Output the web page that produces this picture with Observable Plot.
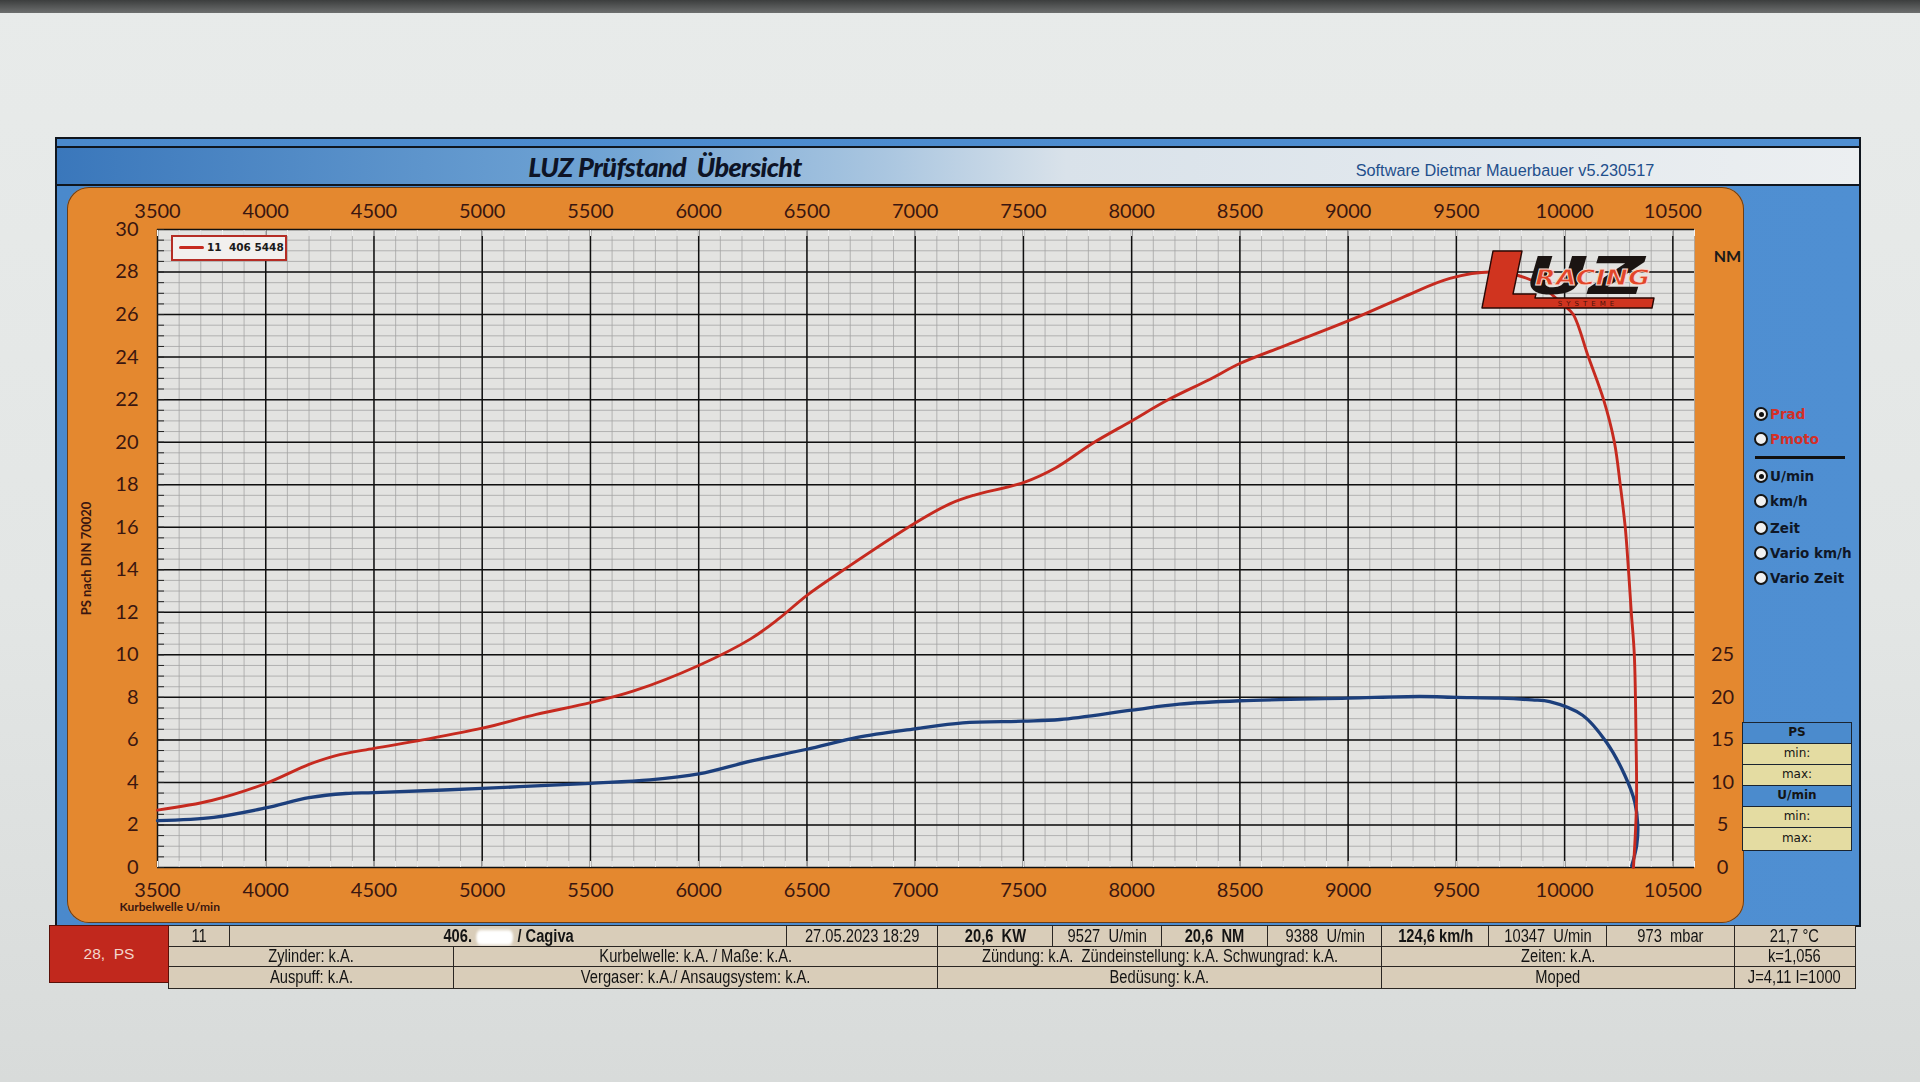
<!DOCTYPE html>
<html><head><meta charset="utf-8">
<script src="https://cdn.jsdelivr.net/npm/d3@7"></script>
<script src="https://cdn.jsdelivr.net/npm/@observablehq/plot@0.6"></script>
<style>
html,body{margin:0;padding:0;}
body{width:1920px;height:1082px;position:relative;overflow:hidden;background:linear-gradient(#e8ebea,#e3e6e5 55%,#d8dbda);font-family:"Liberation Sans",Arial,sans-serif;}
.abs{position:absolute;}
#topbar{left:0;top:0;width:1920px;height:13px;background:linear-gradient(#3c3e3e,#6d6f6f);}
#frame{left:55px;top:137px;width:1806px;height:790px;background:linear-gradient(90deg,#4a89cc,#4f8fd2);border:2px solid #10161e;box-sizing:border-box;}
#titlebar{left:57px;top:146px;width:1802px;height:40px;background:linear-gradient(90deg,#3a77bb 0%,#6fa3d4 30%,#aac6e0 46%,#d9e2ea 56%,#eceff1 100%);border-top:2px solid #10161e;border-bottom:2px solid #10161e;box-sizing:border-box;}
#title{left:520px;top:150px;width:290px;text-align:center;font-family:Lato,sans-serif;font-weight:900;font-style:italic;font-size:27px;letter-spacing:-0.6px;color:#0e1426;}
#software{left:1335px;top:161px;width:340px;text-align:center;font-size:16.3px;color:#1f4f8c;}
#orange{left:67px;top:187px;width:1677px;height:736px;background:#e4882f;border-radius:22px;box-shadow:inset 0 0 0 1px #6a3e18;}
#chart{left:67px;top:187px;}
#legend{left:171px;top:235px;width:112px;height:22px;border:2.5px solid #b52d25;background:#f2f0ee;font-family:"DejaVu Sans",sans-serif;font-weight:bold;font-size:10.5px;color:#1a1a1a;}
#legend .ln{position:absolute;left:6px;top:9px;width:25px;height:3px;background:#c62a1f;border-radius:2px;}
#legend .tx{position:absolute;left:34px;top:4px;white-space:pre;}
.radio{position:absolute;font-family:"DejaVu Sans",sans-serif;font-weight:bold;font-size:13.5px;white-space:nowrap;}
.radio .c{position:absolute;left:-16px;top:1px;width:10px;height:10px;border-radius:50%;background:#f2f2f2;border:2.5px solid #151515;}
.radio .c.on::after{content:"";position:absolute;left:2.5px;top:2.5px;width:5px;height:5px;border-radius:50%;background:#111;}
.mini{position:absolute;left:1742px;width:110px;box-sizing:border-box;border:1.5px solid #1a2430;text-align:center;font-family:"DejaVu Sans",sans-serif;font-size:12px;color:#141414;}
.cell{position:absolute;box-sizing:border-box;border:1.5px solid #2a2622;background:#d9cdb9;display:flex;align-items:center;justify-content:center;overflow:hidden;color:#141414;}
.cell span{display:inline-block;white-space:pre;transform:scaleX(0.84);font-size:17.5px;}
.blot{display:inline-block;width:52px;height:15px;background:#fff;border-radius:6px;filter:blur(1.5px);vertical-align:middle;margin:0 1px;}
</style></head>
<body>
<div id="topbar" class="abs"></div>
<div id="frame" class="abs"></div>
<div id="titlebar" class="abs"></div>
<div id="title" class="abs">LUZ Prüfstand&nbsp; Übersicht</div>
<div id="software" class="abs">Software Dietmar Mauerbauer v5.230517</div>
<div id="orange" class="abs"></div>
<div id="chart" class="abs"></div>
<div id="legend" class="abs"><div class="ln"></div><div class="tx"></div></div>
<svg class="abs" style="left:1478px;top:244px" width="190" height="70" id="logo">
  <path d="M15 7 H44 L35 50 H58 L57 54 H176 L174 64 H4 Z" fill="#d0341f" stroke="#2a0805" stroke-width="1.4" stroke-linejoin="round"/>
  <text x="47" y="50" font-family="DejaVu Sans" font-weight="bold" font-style="italic" font-size="52" fill="#1b1412" textLength="120" lengthAdjust="spacingAndGlyphs">UZ</text>
  <text x="110" y="62" font-family="DejaVu Sans" font-size="7" text-anchor="middle" fill="#4a120a" letter-spacing="4">SYSTEME</text>
  <text x="57" y="41" font-family="DejaVu Sans" font-weight="bold" font-style="italic" font-size="22" fill="#e2452a" stroke="#f6e0d8" stroke-width="0.8" textLength="115" lengthAdjust="spacingAndGlyphs">RACING</text>
</svg>
<div id="side"></div>
<div id="table"></div>
<script>
// ---------- data ----------
const legendName = "11  406 5448";
const rpmPower = [3500, 3750, 4000, 4200, 4320, 4500, 4725, 5000, 5250, 5500, 5700, 6000, 6240, 6370, 6500, 6670, 7000, 7160, 7270, 7500, 7650, 7820, 8000, 8160, 8360, 8500, 8750, 9000, 9250, 9470, 9670, 9850, 10000, 10040, 10110, 10180, 10230, 10257, 10280, 10295, 10308, 10322, 10330, 10332, 10318];
const psPower  = [2.7, 3.15, 3.95, 4.85, 5.25, 5.6, 6.0, 6.55, 7.2, 7.75, 8.3, 9.5, 10.75, 11.7, 12.8, 14.0, 16.2, 17.1, 17.5, 18.1, 18.8, 19.95, 21.0, 21.95, 22.95, 23.7, 24.7, 25.7, 26.8, 27.7, 28.0, 27.6, 26.4, 26.0, 24.0, 22.0, 20.0, 18.0, 16.0, 14.0, 12.0, 10.0, 6.0, 3.0, 0];
const rpmTorque = [3500, 3760, 4000, 4200, 4370, 4500, 5000, 5500, 5775, 6000, 6240, 6500, 6733, 7000, 7220, 7500, 7670, 8000, 8220, 8500, 9000, 9330, 9500, 9700, 9850, 9931, 10083, 10194, 10278, 10324, 10338, 10333, 10310];
const nmTorque  = [5.5, 5.9, 7.0, 8.2, 8.7, 8.8, 9.3, 9.9, 10.3, 11.0, 12.5, 13.9, 15.3, 16.3, 17.0, 17.2, 17.4, 18.5, 19.2, 19.6, 19.9, 20.1, 20.0, 19.9, 19.7, 19.5, 17.9, 14.7, 10.85, 7.7, 5.0, 2.6, 0.2];
const xTickLabels = [3500, 4000, 4500, 5000, 5500, 6000, 6500, 7000, 7500, 8000, 8500, 9000, 9500, 10000, 10500];
const psTicks = [0, 2, 4, 6, 8, 10, 12, 14, 16, 18, 20, 22, 24, 26, 28, 30];
const nmTicks = [0, 5, 10, 15, 20, 25];
const NM_PER_PS = 2.5;
const yLabel = "PS nach DIN 70020";
const xLabel = "Kurbelwelle U/min";
const modeOptions = [
  {label: "Prad", on: true, red: true},
  {label: "Pmoto", on: false, red: true},
  {label: "U/min", on: true, red: false},
  {label: "km/h", on: false, red: false},
  {label: "Zeit", on: false, red: false},
  {label: "Vario km/h", on: false, red: false},
  {label: "Vario Zeit", on: false, red: false}
];
const miniRows = [["PS", true], ["min:", false], ["max:", false], ["U/min", true], ["min:", false], ["max:", false]];
const peakLabel = "28,  PS";
const row1 = ["11", "406.|/ Cagiva", "27.05.2023 18:29", "20,6  KW", "9527  U/min", "20,6  NM", "9388  U/min", "124,6 km/h", "10347  U/min", "973  mbar", "21,7 °C"];
const row1Bold = [false, true, false, true, false, true, false, true, false, false, false];
const row2 = ["Zylinder: k.A.", "Kurbelwelle: k.A. / Maße: k.A.", "Zündung: k.A.  Zündeinstellung: k.A. Schwungrad: k.A.", "Zeiten: k.A.", "k=1,056"];
const row3 = ["Auspuff: k.A.", "Vergaser: k.A./ Ansaugsystem: k.A.", "Bedüsung: k.A.", "Moped", "J=4,11 I=1000"];

// ---------- chart ----------
const powerData = rpmPower.map((r, i) => ({rpm: r, ps: psPower[i]}));
const torqueData = rpmTorque.map((r, i) => ({rpm: r, nm: nmTorque[i]}));
const minorX = d3.range(3500, 10601, 100);
const minorY = d3.range(0, 30.001, 0.5);
const ink = "#3a1610";

const chart = Plot.plot({
  width: 1677, height: 736,
  marginLeft: 90, marginRight: 50, marginTop: 42, marginBottom: 56,
  x: {domain: [3500, 10600]},
  y: {domain: [0, 30]},
  style: {background: "transparent", fontFamily: "Lato, 'Open Sans', sans-serif", color: ink, overflow: "visible"},
  marks: [
    Plot.frame({fill: "#e3e3e1", stroke: "none"}),
    Plot.gridX(minorX, {stroke: "#a2a2a2", strokeOpacity: 0.85, strokeWidth: 0.9}),
    Plot.gridY(minorY, {stroke: "#a2a2a2", strokeOpacity: 0.85, strokeWidth: 0.9}),
    Plot.gridX(xTickLabels, {stroke: "#101010", strokeOpacity: 1, strokeWidth: 1.5}),
    Plot.gridY(psTicks, {stroke: "#101010", strokeOpacity: 1, strokeWidth: 1.5}),
    Plot.axisY(minorY, {anchor: "left", tickSize: 7, dx: 7, tickFormat: () => "", stroke: "#222", label: null}),
    Plot.axisX(minorX, {anchor: "bottom", tickSize: 6, dy: -6, tickFormat: () => "", stroke: "#f4f4f4", label: null}),
    Plot.axisX(minorX, {anchor: "top", tickSize: 6, dy: 6, tickFormat: () => "", stroke: "#f4f4f4", label: null}),
    Plot.axisX(xTickLabels, {anchor: "top", tickSize: 0, tickPadding: 12, fontSize: 20, label: null, tickFormat: d => String(d)}),
    Plot.axisX(xTickLabels, {anchor: "bottom", tickSize: 0, tickPadding: 15, fontSize: 20, label: null, tickFormat: d => String(d)}),
    Plot.axisY(psTicks, {anchor: "left", tickSize: 0, tickPadding: 19, fontSize: 20, label: null}),
    Plot.axisY(nmTicks.map(n => n / NM_PER_PS), {anchor: "right", tickSize: 0, tickPadding: 28, textAnchor: "middle", fontSize: 20, label: null, tickFormat: d => String(Math.round(d * NM_PER_PS))}),
    Plot.line(torqueData, {x: "rpm", y: d => d.nm / NM_PER_PS, stroke: "#1c3f7c", strokeWidth: 3.3, curve: "catmull-rom"}),
    Plot.line(powerData, {x: "rpm", y: "ps", stroke: "#c62a1f", strokeWidth: 2.9, curve: "catmull-rom"}),
    Plot.text([yLabel], {text: d => d, frameAnchor: "left", dx: -71, dy: 10, rotate: -90, textAnchor: "middle", lineAnchor: "middle", fontWeight: "bold", fontSize: 13, fill: ink}),
    Plot.text([xLabel], {text: d => d, frameAnchor: "bottom-left", dx: -38, dy: 40, textAnchor: "start", lineAnchor: "middle", fontWeight: "bold", fontSize: 12, fill: ink}),
    Plot.text(["NM"], {text: d => d, frameAnchor: "top-right", dx: 33, dy: 27, textAnchor: "middle", lineAnchor: "middle", fontWeight: "bold", fontSize: 16, fill: "#1a1a1a"})
  ]
});
document.getElementById("chart").appendChild(chart);
document.querySelector("#legend .tx").textContent = legendName;

// ---------- side panel ----------
const side = document.getElementById("side");
const radioY = [406, 431, 468, 493, 520, 545, 570];
modeOptions.forEach((o, i) => {
  const d = document.createElement("div");
  d.className = "radio";
  d.style.left = "1770px";
  d.style.top = radioY[i] + "px";
  d.style.color = o.red ? "#d42f27" : "#0f1726";
  d.innerHTML = `<span class="c${o.on ? " on" : ""}"></span>`;
  d.appendChild(document.createTextNode(o.label));
  side.appendChild(d);
});
const sep = document.createElement("div");
sep.className = "abs";
Object.assign(sep.style, {left: "1755px", top: "456px", width: "90px", height: "3px", background: "#111"});
side.appendChild(sep);
const miniY = [722, 743, 764, 785, 806, 827, 849];
miniRows.forEach(([t, head], i) => {
  const d = document.createElement("div");
  d.className = "mini";
  d.style.top = miniY[i] + "px";
  d.style.height = (miniY[i + 1] - miniY[i] + 1.5) + "px";
  d.style.lineHeight = (miniY[i + 1] - miniY[i] - 2) + "px";
  d.style.background = head ? "#4b8bcd" : "#e4dca2";
  d.style.fontWeight = head ? "bold" : "normal";
  d.textContent = t;
  side.appendChild(d);
});

// ---------- bottom table ----------
const table = document.getElementById("table");
const rowsY = [925, 946, 966, 987];
const b1 = [168, 229, 786, 937, 1052, 1161, 1267, 1381, 1488, 1606, 1734, 1854];
const b2 = [168, 453, 937, 1381, 1734, 1854];
function cell(x0, x1, y0, y1, text, bold) {
  const d = document.createElement("div");
  d.className = "cell";
  Object.assign(d.style, {left: x0 + "px", top: y0 + "px", width: (x1 - x0 + 1.5) + "px", height: (y1 - y0 + 1.5) + "px"});
  const s = document.createElement("span");
  if (bold) s.style.fontWeight = "bold";
  if (text.includes("|")) {
    const [a, b] = text.split("|");
    s.appendChild(document.createTextNode(a));
    const bl = document.createElement("span"); bl.className = "blot"; s.appendChild(bl);
    s.appendChild(document.createTextNode(b));
  } else s.textContent = text;
  d.appendChild(s);
  table.appendChild(d);
}
row1.forEach((t, i) => cell(b1[i], b1[i + 1], rowsY[0], rowsY[1], t, row1Bold[i]));
row2.forEach((t, i) => cell(b2[i], b2[i + 1], rowsY[1], rowsY[2], t, false));
row3.forEach((t, i) => cell(b2[i], b2[i + 1], rowsY[2], rowsY[3], t, false));
const red = document.createElement("div");
red.className = "abs";
Object.assign(red.style, {left: "49px", top: "925px", width: "120px", height: "58px", background: "#c1281d", color: "#f3d6cc", fontSize: "15.5px", display: "flex", alignItems: "center", justifyContent: "center", whiteSpace: "pre", border: "1px solid #5a1008", boxSizing: "border-box"});
red.textContent = peakLabel;
table.appendChild(red);
</script>
</body></html>
